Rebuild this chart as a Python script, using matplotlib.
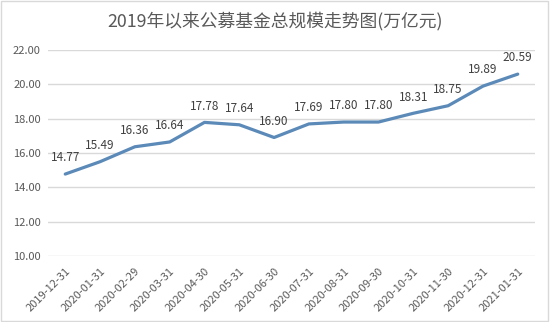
import matplotlib.pyplot as plt
from matplotlib.patches import Rectangle

plt.rcParams['font.family'] = ['Noto Sans CJK SC', 'DejaVu Sans']

dates = ['2019-12-31', '2020-01-31', '2020-02-29', '2020-03-31', '2020-04-30',
         '2020-05-31', '2020-06-30', '2020-07-31', '2020-08-31', '2020-09-30',
         '2020-10-31', '2020-11-30', '2020-12-31', '2021-01-31']
scale = [14.77, 15.49, 16.36, 16.64, 17.78, 17.64, 16.90,
         17.69, 17.80, 17.80, 18.31, 18.75, 19.89, 20.59]
yticks = [10, 12, 14, 16, 18, 20, 22]

fig = plt.figure(figsize=(5.5, 3.22), dpi=100)
ax = fig.add_axes([0.087, 0.205, 0.886, 0.64])

x = list(range(len(dates)))
ax.plot(x, scale, color='#5b8ab8', lw=2.3, solid_capstyle='round')
for i, v in enumerate(scale):
    ax.annotate('%.2f' % v, (i, v), xytext=(0, 7), textcoords='offset points',
                ha='center', va='bottom', fontsize=8.5, color='#404040')

ax.set_xlim(-0.5, len(dates) - 0.5)
ax.set_ylim(10, 22)
ax.set_yticks(yticks)
ax.set_yticklabels(['%.2f' % t for t in yticks], fontsize=8, color='#595959')
ax.set_xticks(x)
ax.set_xticklabels(dates, rotation=45, ha='right', rotation_mode='anchor',
                   fontsize=8, color='#595959')
ax.tick_params(axis='y', length=0, pad=5)
ax.tick_params(axis='x', length=0, pad=7)
ax.grid(axis='y', color='#d9d9d9', lw=1)
ax.set_axisbelow(True)
for s in ax.spines.values():
    s.set_visible(False)

fig.text(0.5, 0.935, '2019年以来公募基金总规模走势图(万亿元)', ha='center', va='center',
         fontsize=12.8, color='#595959')
fig.patches.append(Rectangle((0.002, 0.003), 0.995, 0.994, transform=fig.transFigure,
                             fill=False, ec='#d9d9d9', lw=1))

fig.savefig('out.png', dpi=100)
